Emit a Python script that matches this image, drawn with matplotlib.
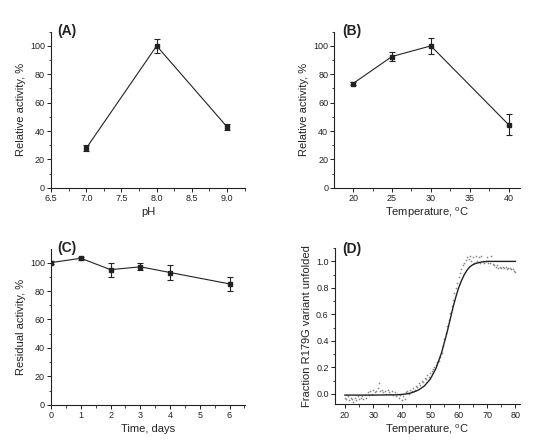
import matplotlib
matplotlib.use('Agg')
import matplotlib.pyplot as plt
from matplotlib.ticker import MultipleLocator, FormatStrFormatter

plt.rcParams['font.family'] = ['Liberation Sans', 'DejaVu Sans']
plt.rcParams['mathtext.fontset'] = 'custom'
plt.rcParams['mathtext.rm'] = 'Liberation Sans'

# (A) pH
ph = [7.0, 8.0, 9.0]
ph_act = [28, 100, 43]
ph_err = [2, 5, 2]

# (B) temperature
temp = [20, 25, 30, 40]
temp_act = [73.5, 92.5, 100, 44.5]
temp_err = [1, 3.5, 5.5, 7.5]

# (C) stability over time
days = [0, 1, 2, 3, 4, 6]
resid = [100, 103, 95, 97, 93, 85]
resid_err = [1, 1, 5, 2.5, 5, 5]

# (D) melting curve, raw points
melt_t = [20.0, 20.5, 21.0, 21.5, 22.0, 22.5, 23.0, 23.5, 24.0, 24.5, 25.0, 25.5,
          26.0, 26.5, 27.0, 27.5, 28.0, 28.5, 29.0, 29.5, 30.0, 30.5, 31.0, 31.5,
          32.0, 32.5, 33.0, 33.5, 34.0, 34.5, 35.0, 35.5, 36.0, 36.5, 37.0, 37.5,
          38.0, 38.5, 39.0, 39.5, 40.0, 40.5, 41.0, 41.5, 42.0, 42.5, 43.0, 43.5,
          44.0, 44.5, 45.0, 45.5, 46.0, 46.5, 47.0, 47.5, 48.0, 48.5, 49.0, 49.5,
          50.0, 50.5, 51.0, 51.5, 52.0, 52.5, 53.0, 53.5, 54.0, 54.5, 55.0, 55.5,
          56.0, 56.5, 57.0, 57.5, 58.0, 58.5, 59.0, 59.5, 60.0, 60.5, 61.0, 61.5,
          62.0, 62.5, 63.0, 63.5, 64.0, 64.5, 65.0, 65.5, 66.0, 66.5, 67.0, 67.5,
          68.0, 68.5, 69.0, 69.5, 70.0, 70.5, 71.0, 71.5, 72.0, 72.5, 73.0, 73.5,
          74.0, 74.5, 75.0, 75.5, 76.0, 76.5, 77.0, 77.5, 78.0, 78.5, 79.0, 79.5, 80.0]
melt_f = [-0.03, -0.04, -0.02, -0.05, -0.03, -0.04, -0.06, -0.03, -0.05, -0.02, -0.04, -0.03,
          -0.02, -0.04, -0.01, -0.03, 0.01, -0.01, 0.02, 0.00, 0.03, 0.01, 0.02, 0.04,
          0.08, 0.02, 0.03, 0.01, 0.02, 0.00, 0.03, 0.01, 0.00, 0.02, -0.01, 0.01,
          -0.02, 0.00, -0.03, -0.01, -0.05, -0.02, -0.04, 0.01, 0.02, 0.00, 0.03, 0.02,
          0.04, 0.03, 0.06, 0.05, 0.08, 0.07, 0.10, 0.09, 0.12, 0.11, 0.14, 0.13,
          0.16, 0.17, 0.19, 0.20, 0.22, 0.24, 0.25, 0.28, 0.31, 0.36, 0.41, 0.46,
          0.51, 0.56, 0.61, 0.66, 0.71, 0.76, 0.80, 0.84, 0.88, 0.91, 0.94, 0.97,
          0.99, 1.01, 1.03, 1.02, 1.04, 1.00, 1.03, 0.99, 1.04, 1.00, 1.03, 0.99,
          1.04, 1.00, 0.99, 1.00, 1.03, 0.99, 0.99, 1.04, 0.98, 0.97, 0.96, 0.97,
          0.95, 0.96, 0.95, 0.96, 0.95, 0.96, 0.94, 0.95, 0.95, 0.94, 0.94, 0.93, 0.92]

# (D) fitted curve
fit_t = [20, 30, 38, 40, 42, 43, 44, 45, 46, 47, 48, 49, 50, 51, 52, 53, 54, 55, 56,
         57, 58, 59, 60, 61, 62, 63, 64, 65, 66, 67, 68, 70, 75, 80]
fit_f = [-0.01, -0.01, -0.008, -0.005, 0.0, 0.005, 0.012, 0.02, 0.03, 0.045, 0.06,
         0.085, 0.11, 0.15, 0.19, 0.25, 0.31, 0.39, 0.47, 0.56, 0.65, 0.73, 0.80,
         0.855, 0.90, 0.935, 0.96, 0.975, 0.985, 0.99, 0.995, 1.0, 1.0, 1.0]

ink = '#222222'
deg = 'Temperature, $^{\\mathrm{o}}$C'

fig = plt.figure(figsize=(5.5, 4.4), dpi=100)
axA = fig.add_axes([0.093, 0.573, 0.353, 0.355])
axB = fig.add_axes([0.608, 0.573, 0.338, 0.355])
axC = fig.add_axes([0.093, 0.080, 0.353, 0.354])
axD = fig.add_axes([0.609, 0.081, 0.336, 0.355])


def style(ax):
    for s in ['top', 'right']:
        ax.spines[s].set_visible(False)
    for s in ['left', 'bottom']:
        ax.spines[s].set_color(ink)
        ax.spines[s].set_linewidth(0.8)
    ax.tick_params(which='major', direction='out', length=3, width=0.7,
                   labelsize=6.5, colors=ink, pad=1.5)
    ax.tick_params(which='minor', direction='out', length=1.8, width=0.6, colors=ink)


def err_plot(ax, x, y, e):
    ax.errorbar(x, y, yerr=e, color=ink, marker='s', markersize=3.5, lw=0.8,
                elinewidth=0.8, capsize=2.5, capthick=0.8)


# A
err_plot(axA, ph, ph_act, ph_err)
axA.set_xlim(6.5, 9.26)
axA.set_ylim(0, 110)
axA.xaxis.set_major_locator(MultipleLocator(0.5))
axA.xaxis.set_minor_locator(MultipleLocator(0.25))
axA.xaxis.set_major_formatter(FormatStrFormatter('%.1f'))
axA.yaxis.set_major_locator(MultipleLocator(20))
axA.yaxis.set_minor_locator(MultipleLocator(10))
axA.set_xlabel('pH', fontsize=8, color=ink, labelpad=3)
axA.set_ylabel('Relative activity, %', fontsize=8, color=ink, labelpad=3)
axA.text(0.03, 0.98, '(A)', transform=axA.transAxes, fontsize=10,
         fontweight='bold', va='baseline', color=ink)

# B
err_plot(axB, temp, temp_act, temp_err)
axB.set_xlim(17.6, 41.5)
axB.set_ylim(0, 110)
axB.xaxis.set_major_locator(MultipleLocator(5))
axB.xaxis.set_minor_locator(MultipleLocator(2.5))
axB.yaxis.set_major_locator(MultipleLocator(20))
axB.yaxis.set_minor_locator(MultipleLocator(10))
axB.set_xlabel(deg, fontsize=8, color=ink, labelpad=2)
axB.set_ylabel('Relative activity, %', fontsize=8, color=ink, labelpad=3)
axB.text(0.04, 0.98, '(B)', transform=axB.transAxes, fontsize=10,
         fontweight='bold', va='baseline', color=ink)

# C
err_plot(axC, days, resid, resid_err)
axC.set_xlim(0, 6.53)
axC.set_ylim(0, 109.5)
axC.xaxis.set_major_locator(MultipleLocator(1))
axC.xaxis.set_minor_locator(MultipleLocator(0.5))
axC.yaxis.set_major_locator(MultipleLocator(20))
axC.yaxis.set_minor_locator(MultipleLocator(10))
axC.set_xlabel('Time, days', fontsize=8, color=ink, labelpad=3)
axC.set_ylabel('Residual activity, %', fontsize=8, color=ink, labelpad=3)
axC.text(0.033, 0.978, '(C)', transform=axC.transAxes, fontsize=10,
         fontweight='bold', va='baseline', color=ink)

# D
axD.scatter(melt_t, melt_f, s=1.5, color='#888888', linewidths=0)
axD.plot(fit_t, fit_f, color=ink, lw=1.0)
axD.set_xlim(16.5, 81.5)
axD.set_ylim(-0.08, 1.10)
axD.xaxis.set_major_locator(MultipleLocator(10))
axD.xaxis.set_minor_locator(MultipleLocator(5))
axD.yaxis.set_major_locator(MultipleLocator(0.2))
axD.yaxis.set_minor_locator(MultipleLocator(0.1))
axD.yaxis.set_major_formatter(FormatStrFormatter('%.1f'))
axD.set_xlabel(deg, fontsize=8, color=ink, labelpad=2)
axD.set_ylabel('Fraction R179G variant unfolded', fontsize=8, color=ink, labelpad=3)
axD.text(0.04, 0.968, '(D)', transform=axD.transAxes, fontsize=10,
         fontweight='bold', va='baseline', color=ink)

for ax in [axA, axB, axC, axD]:
    style(ax)

fig.savefig('out.png', dpi=100)
